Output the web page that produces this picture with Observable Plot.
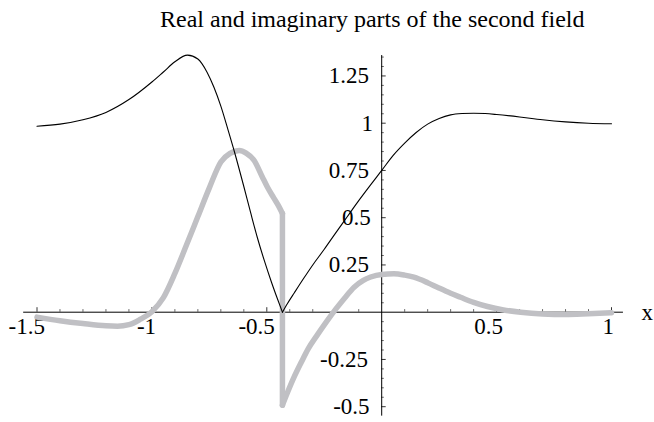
<!DOCTYPE html>
<html><head><meta charset="utf-8">
<script src="https://cdn.jsdelivr.net/npm/d3@7"></script>
<script src="https://cdn.jsdelivr.net/npm/@observablehq/plot@0.6"></script>
<style>
body{margin:0;background:#fff;}
#title{font-family:"Liberation Serif",serif;font-size:24px;line-height:24px;height:31px;padding-top:7px;padding-left:160px;color:#000;white-space:nowrap;}
#chart svg{overflow:visible;}
#chart svg text{font-family:"Liberation Serif",serif;}
</style></head><body>
<div id="title">Real and imaginary parts of the second field</div>
<div id="chart"></div>
<script>
// Real part (thin black line)
const realX = [-1.5, -1.4, -1.3, -1.2, -1.1, -1.0, -0.95, -0.9, -0.845, -0.8, -0.76, -0.73, -0.7, -0.67, -0.64, -0.6, -0.57, -0.54, -0.51, -0.48, -0.455, -0.432, -0.41, -0.38, -0.34, -0.3, -0.25, -0.2, -0.15, -0.1, -0.05, 0, 0.05, 0.1, 0.15, 0.2, 0.25, 0.3, 0.35, 0.4, 0.45, 0.5, 0.6, 0.7, 0.8, 0.9, 1.0];
const realY = [0.984, 0.995, 1.018, 1.057, 1.125, 1.218, 1.271, 1.325, 1.36, 1.34, 1.27, 1.19, 1.09, 0.97, 0.845, 0.665, 0.525, 0.39, 0.27, 0.16, 0.075, 0.0, 0.046, 0.103, 0.178, 0.25, 0.333, 0.42, 0.505, 0.59, 0.671, 0.75, 0.83, 0.895, 0.951, 0.995, 1.025, 1.044, 1.051, 1.053, 1.051, 1.046, 1.033, 1.018, 1.007, 1.0, 0.997];
// Imaginary part (thick grey line)
const imagX = [-1.5, -1.4, -1.3, -1.2, -1.15, -1.1, -1.05, -1.0, -0.95, -0.9, -0.85, -0.8, -0.75, -0.7, -0.66, -0.62, -0.59, -0.555, -0.52, -0.497, -0.47, -0.446, -0.432, -0.432, -0.41, -0.38, -0.35, -0.32, -0.28, -0.24, -0.2, -0.16, -0.12, -0.08, -0.048, 0, 0.053, 0.1, 0.14, 0.2, 0.242, 0.3, 0.343, 0.4, 0.46, 0.53, 0.605, 0.7, 0.8, 0.9, 1.0];
const imagY = [-0.026, -0.045, -0.06, -0.072, -0.074, -0.066, -0.037, 0.003, 0.077, 0.205, 0.354, 0.506, 0.658, 0.795, 0.84, 0.856, 0.842, 0.803, 0.717, 0.661, 0.605, 0.556, 0.522, -0.492, -0.425, -0.34, -0.265, -0.194, -0.12, -0.05, 0.016, 0.077, 0.132, 0.168, 0.186, 0.2, 0.203, 0.196, 0.185, 0.156, 0.132, 0.1, 0.079, 0.052, 0.03, 0.012, 0.0, -0.009, -0.012, -0.008, -0.003];

const xMajorTicks = [-1.5, -1, -0.5, 0.5, 1];
const xTickLabels = ["-1.5", "-1", "-0.5", "0.5", "1"];
const yMajorTicks = [-0.5, -0.25, 0.25, 0.5, 0.75, 1, 1.25];
const yTickLabels = ["-0.5", "-0.25", "0.25", "0.5", "0.75", "1", "1.25"];
const xMinorTicks = d3.range(-15, 11).filter(i => i % 5 !== 0).map(i => i / 10);
const yMinorTicks = d3.range(-10, 28).filter(i => i % 5 !== 0).map(i => i / 20);
const xAxisExtent = [-1.558, 1.052];
const yAxisExtent = [-0.55, 1.358];
const axisLabel = "x";

const xDomain = [-1.5, 1], xRange = [36.5, 611];
const yDomain = [-0.5, 1.25], yRange = [368.2, 37.45];
const pxX = (xRange[1] - xRange[0]) / (xDomain[1] - xDomain[0]);
const pxY = (yRange[0] - yRange[1]) / (yDomain[1] - yDomain[0]);
const FS = 23;
const font = '"Liberation Serif", "Times New Roman", serif';
const estW = s => FS * [...s].reduce((a, c) => a + (c === "." ? 0.25 : c === "-" ? 0.333 : 0.5), 0);

// real part: split at its V-shaped zero (vertex shared by both pieces)
const vIdx = realY.indexOf(d3.min(realY.slice(5)));
const realData = [];
realX.forEach((x, i) => {
  if (i <= vIdx) realData.push({x, y: realY[i], piece: 0});
  if (i >= vIdx) realData.push({x, y: realY[i], piece: 1});
});
// imaginary part: split at the jump (two samples with the same x)
const jIdx = imagX.findIndex((x, i) => i > 0 && x === imagX[i - 1]);
const imagData = imagX.map((x, i) => ({x, y: imagY[i], piece: i < jIdx ? 0 : 1}));
const jumpData = [imagData[jIdx - 1], imagData[jIdx]];

const chart = Plot.plot({
  width: 654, height: 384,
  marginTop: 0, marginBottom: 0, marginLeft: 0, marginRight: 0,
  x: {domain: xDomain, range: xRange, axis: null},
  y: {domain: yDomain, range: yRange, axis: null},
  style: {fontFamily: font, background: "white", overflow: "visible"},
  marks: [
    // axes
    Plot.ruleY([0], {x1: xAxisExtent[0], x2: xAxisExtent[1], stroke: "#000", strokeWidth: 1}),
    Plot.ruleX([0], {y1: yAxisExtent[0], y2: yAxisExtent[1], stroke: "#000", strokeWidth: 1}),
    Plot.ruleX(xMajorTicks, {x: d => d, y1: 0, y2: 4.5 / pxY, stroke: "#000", strokeWidth: 0.8}),
    Plot.ruleX(xMinorTicks, {x: d => d, y1: 0, y2: 2.6 / pxY, stroke: "#000", strokeWidth: 0.6}),
    Plot.ruleY(yMajorTicks, {y: d => d, x1: 0, x2: 4.5 / pxX, stroke: "#000", strokeWidth: 0.8}),
    Plot.ruleY(yMinorTicks, {y: d => d, x1: 0, x2: 2.6 / pxX, stroke: "#000", strokeWidth: 0.6}),
    Plot.text(xMajorTicks, {
      x: (d, i) => d - 0.28 * estW(xTickLabels[i]) / pxX, y: 0, dy: 14,
      text: (d, i) => xTickLabels[i], textAnchor: "middle", lineAnchor: "middle",
      fontSize: FS, fontFamily: font, fill: "#000"
    }),
    Plot.text(yMajorTicks, {
      x: (d, i) => -(7 + 0.14 * estW(yTickLabels[i])) / pxX, y: d => d,
      text: (d, i) => yTickLabels[i], textAnchor: "end", lineAnchor: "middle",
      fontSize: FS, fontFamily: font, fill: "#000"
    }),
    Plot.text([axisLabel], {x: xAxisExtent[1], y: 0, text: d => d, textAnchor: "start", lineAnchor: "middle", dx: 18, fontSize: FS, fontFamily: font, fill: "#000"}),
    // curves
    Plot.line(imagData, {x: "x", y: "y", z: "piece", stroke: "#c0c0c4", strokeWidth: 5.5, curve: "monotone-x", strokeLinecap: "round", strokeLinejoin: "round"}),
    Plot.line(jumpData, {x: "x", y: "y", stroke: "#c0c0c4", strokeWidth: 5.5, strokeLinecap: "round"}),
    Plot.line(realData, {x: "x", y: "y", z: "piece", stroke: "#000", strokeWidth: 1.1, curve: "monotone-x"})
  ]
});
document.getElementById("chart").appendChild(chart);
</script>
</body></html>
